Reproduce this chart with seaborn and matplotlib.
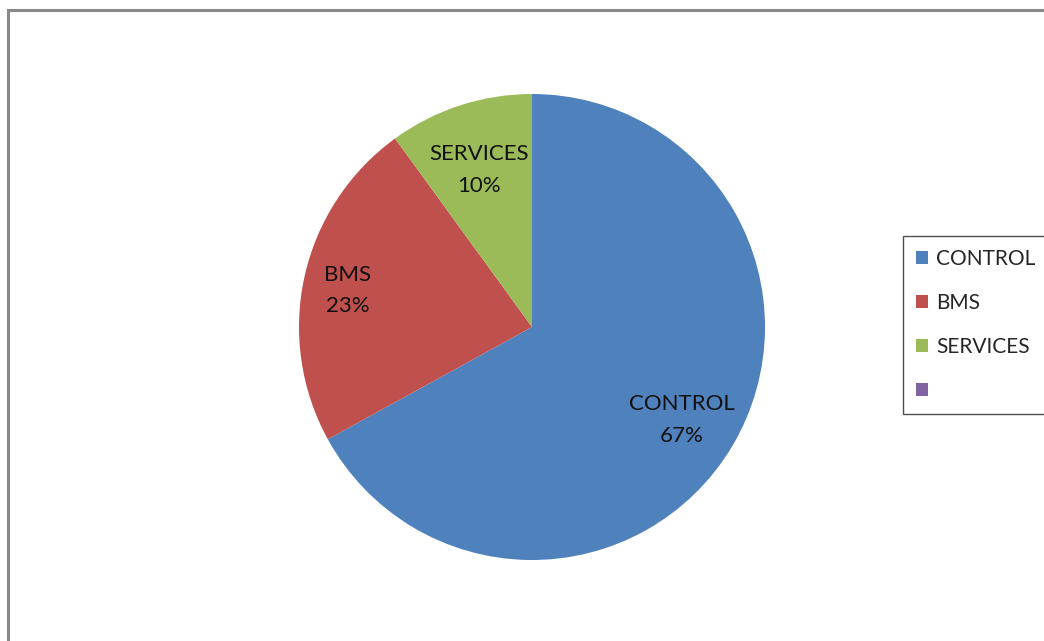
import numpy as np
import matplotlib
matplotlib.use("Agg")
import matplotlib.pyplot as plt
from matplotlib.patches import Rectangle, Patch
import seaborn as sns

categories = ["CONTROL", "BMS", "SERVICES", ""]
values = [67, 23, 10, 0]
pct_labels = ["67%", "23%", "10%", ""]
colors = ["#4F81BD", "#C0504D", "#9BBB59", "#8064A2"]
label_dist = [0.745, 0.81, 0.73]

sns.set_theme(style="white")
plt.rcParams['font.family'] = ['Lato', 'DejaVu Sans']

W, H = 1044, 641
fig = plt.figure(figsize=(W / 100, H / 100), dpi=100)
fig.patch.set_facecolor("white")

cx, cy, r = 532, 327, 233
ax = fig.add_axes([(cx - r) / W, (H - cy - r) / H, 2 * r / W, 2 * r / H])
wedges, _ = ax.pie(values, colors=sns.color_palette(colors), startangle=90,
                   counterclock=False, radius=1,
                   wedgeprops=dict(linewidth=0, edgecolor="none"))
ax.set_xlim(-1, 1)
ax.set_ylim(-1, 1)
ax.set_aspect("equal")
ax.axis("off")

for w, cat, pct, d in zip(wedges, categories, pct_labels, label_dist):
    mid = np.deg2rad((w.theta1 + w.theta2) / 2)
    ax.annotate(f"{cat}\n{pct}", xy=(d * np.cos(mid), d * np.sin(mid)),
                xytext=(0, -3.5), textcoords="offset points", ha="center",
                va="center", fontsize=16, color="#111111", linespacing=1.72)

# outer frame
fig.patches.append(Rectangle((8 / W, -0.1), 1.2, (H - 10) / H + 0.1,
                             transform=fig.transFigure, fill=False,
                             edgecolor="#888888", linewidth=2.2))

handles = [Patch(facecolor=c, edgecolor="none") for c in colors]
leg = fig.legend(handles, categories, loc="upper left",
                 bbox_to_anchor=(903 / W, (H - 412) / H, 170 / W, 176 / H),
                 mode="expand", fontsize=15, frameon=True, fancybox=False,
                 handlelength=0.6, handleheight=0.6, handletextpad=0.38,
                 labelspacing=1.15, borderpad=0.62, borderaxespad=0)
leg.get_frame().set_edgecolor("#222222")
leg.get_frame().set_linewidth(1.0)

fig.savefig("out.png", dpi=100, facecolor="white")
